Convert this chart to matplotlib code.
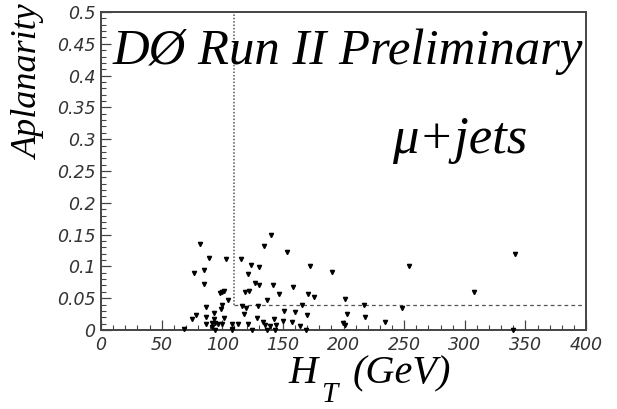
import matplotlib
matplotlib.use("Agg")
import matplotlib.pyplot as plt
from matplotlib.ticker import MultipleLocator, FixedFormatter, FixedLocator

# Event values: H_T (GeV) and aplanarity
ht = [81.6, 89.3, 103.1, 85.2, 76.4, 85.2, 101.4, 100.1, 98.4, 105.0,
      86.3, 100.0, 98.7, 93.0, 78.1, 74.8, 86.3, 101.2, 93.5, 86.3,
      91.3, 94.0, 96.8, 100.0, 107.8, 91.8, 93.7, 68.2, 108.0, 108.0,
      112.7, 115.2, 140.2, 134.7, 153.7, 124.0, 130.6, 172.1, 121.0, 126.8,
      130.6, 141.6, 158.6, 121.8, 118.8, 146.8, 170.5, 175.9, 137.2, 116.0,
      119.8, 129.7, 166.0, 150.7, 159.7, 118.2, 169.6, 128.9, 142.9, 133.6,
      157.5, 121.5, 135.3, 139.1, 144.3, 149.8, 163.9, 124.3, 137.0, 143.5,
      168.8, 190.5, 201.5, 217.2, 202.9, 217.5, 199.8, 201.5, 234.2, 253.8,
      248.5, 307.9, 341.7, 339.5]
aplan = [0.135, 0.113, 0.112, 0.095, 0.089, 0.073, 0.062, 0.060, 0.058, 0.047,
         0.036, 0.040, 0.033, 0.027, 0.023, 0.018, 0.020, 0.019, 0.017, 0.010,
         0.011, 0.011, 0.010, 0.010, 0.010, 0.005, 0.000, 0.001, 0.002, 0.000,
         0.010, 0.112, 0.149, 0.132, 0.123, 0.102, 0.099, 0.101, 0.088, 0.074,
         0.071, 0.071, 0.067, 0.062, 0.059, 0.057, 0.056, 0.052, 0.047, 0.037,
         0.035, 0.037, 0.039, 0.030, 0.029, 0.025, 0.024, 0.019, 0.017, 0.012,
         0.013, 0.009, 0.008, 0.007, 0.008, 0.014, 0.007, 0.000, 0.000, 0.000,
         0.000, 0.091, 0.048, 0.040, 0.025, 0.021, 0.011, 0.008, 0.013, 0.101,
         0.035, 0.059, 0.119, 0.000]

# selection cuts
ht_cut = 110
aplan_cut = 0.04

xticks = [0, 50, 100, 150, 200, 250, 300, 350, 400]
xlabels = ["0", "50", "100", "150", "200", "250", "300", "350", "400"]
yticks = [0, 0.05, 0.1, 0.15, 0.2, 0.25, 0.3, 0.35, 0.4, 0.45, 0.5]
ylabels = ["0", "0.05", "0.1", "0.15", "0.2", "0.25", "0.3", "0.35", "0.4", "0.45", "0.5"]

W, H = 617, 409
fig = plt.figure(figsize=(W / 100, H / 100), dpi=100)
fig.patch.set_facecolor("white")
ax = fig.add_axes([101 / W, 1 - 330 / H, 485 / W, 318 / H])
ax.set_xlim(0, 400)
ax.set_ylim(0, 0.5)

ax.plot(ht, aplan, ls="none", marker="v", ms=3.0, color="black", clip_on=False, zorder=3)

# cut lines: dotted vertical, dashed horizontal
ax.plot([ht_cut, ht_cut], [aplan_cut, 0.5], color="#555", ls=(0, (1, 1.2)), lw=1.1)
ax.plot([ht_cut, 400], [aplan_cut, aplan_cut], color="#555", ls=(0, (3, 2.5)), lw=0.9)

ax.xaxis.set_major_locator(FixedLocator(xticks))
ax.xaxis.set_major_formatter(FixedFormatter(xlabels))
ax.yaxis.set_major_locator(FixedLocator(yticks))
ax.yaxis.set_major_formatter(FixedFormatter(ylabels))
ax.xaxis.set_minor_locator(MultipleLocator(10))
ax.yaxis.set_minor_locator(MultipleLocator(0.01))
ax.tick_params(which="major", direction="in", length=7.5, width=0.9, color="#444")
ax.tick_params(which="minor", direction="in", length=3.5, width=0.8, color="#444")
ax.tick_params(axis="x", pad=4)
ax.tick_params(axis="y", pad=4)
for lab in ax.get_xticklabels() + ax.get_yticklabels():
    lab.set_fontfamily("DejaVu Sans")
    lab.set_fontstyle("italic")
    lab.set_fontsize(12.5)
    lab.set_color("#333")
for s in ax.spines.values():
    s.set_linewidth(1.4)
    s.set_color("#444")

serif = "Liberation Serif"
fig.text(29 / W, 1 - 4 / H, "Aplanarity", rotation=90, ha="center", va="top",
         family=serif, style="italic", size=26)
fig.text(288 / W, 1 - 383 / H, "H", ha="left", va="baseline",
         family=serif, style="italic", size=29)
fig.text(321 / W, 1 - 408 / H, "T", ha="left", va="bottom",
         family=serif, style="italic", size=21)
fig.text(353 / W, 1 - 383 / H, "(GeV)", ha="left", va="baseline",
         family=serif, style="italic", size=29)

fig.text(348 / W, 1 - 52 / H, "D\u00d8 Run II Preliminary", ha="center", va="center",
         family=serif, style="italic", size=36.5)
fig.text(460 / W, 1 - 140 / H, "\u03bc+jets", ha="center", va="center",
         family=serif, style="italic", size=38)

fig.savefig("out.png", dpi=100)
